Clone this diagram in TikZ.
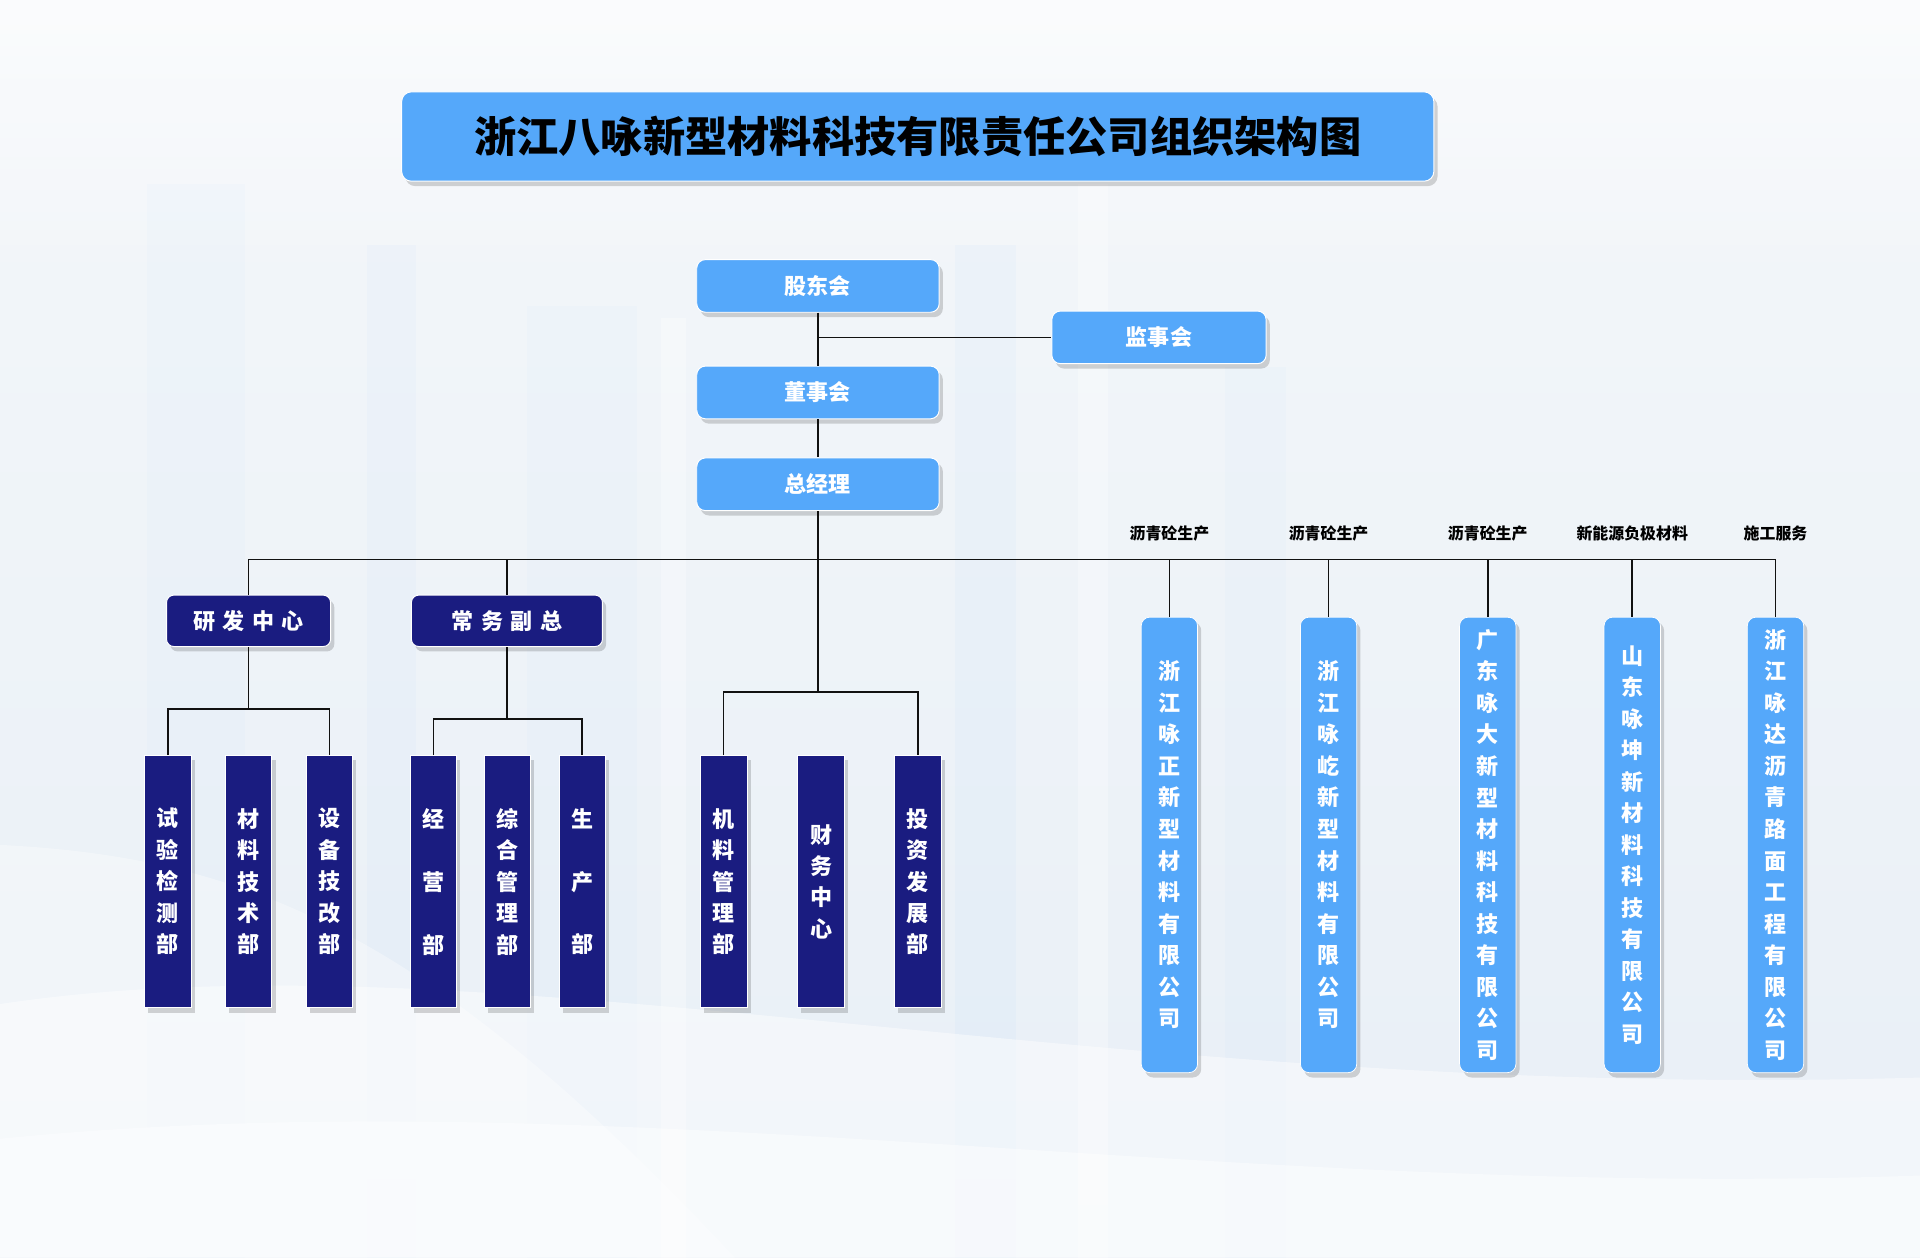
\documentclass[tikz,border=0pt]{standalone}
\usepackage{fontspec}
\setmainfont{Noto Sans CJK SC}
\usetikzlibrary{shadows,positioning}
\definecolor{lblue}{HTML}{55A8FA}
\definecolor{navy}{HTML}{1A1C80}
\definecolor{bgtop}{HTML}{F4F7FA}
\definecolor{bgbot}{HTML}{E8EFF6}
\definecolor{lineclr}{HTML}{111111}
\newcommand{\vsp}{\mbox{}}
\begin{document}
\begin{tikzpicture}[x=1pt,y=-1pt,
  shad/.style={drop shadow={shadow xshift=3pt,shadow yshift=-4pt,opacity=0.16,fill=black}},
  titlebox/.style={shad,fill=lblue,draw=white,line width=0.8pt,rounded corners=8pt,minimum width=843pt,minimum height=73pt,inner sep=0pt,font=\fontsize{34.5}{40}\selectfont\bfseries,text=black},
  topbox/.style={shad,fill=lblue,draw=white,line width=0.8pt,rounded corners=7pt,minimum width=198pt,minimum height=43pt,inner sep=0pt,font=\fontsize{18}{20}\selectfont\bfseries,text=white},
  midbox/.style={shad,fill=navy,draw=white,line width=0.8pt,rounded corners=6pt,minimum height=42pt,inner sep=0pt,font=\fontsize{18}{20}\selectfont\bfseries,text=white},
  deptbox/.style={shad,fill=navy,draw=white,line width=0.6pt,minimum width=38pt,minimum height=206pt,inner sep=0pt,align=center,font=\fontsize{18}{25.7}\selectfont\bfseries,text=white},
  cobox/.style={shad,fill=lblue,draw=white,line width=0.6pt,rounded corners=7pt,minimum width=46pt,minimum height=372pt,inner sep=0pt,align=center,font=\fontsize{18}{25.75}\selectfont\bfseries,text=white},
  toplabel/.style={font=\fontsize{13}{15}\selectfont\bfseries,text=black,inner sep=0pt},
  conn/.style={draw=lineclr,line width=1.3pt}]
% background
\useasboundingbox (0,0) rectangle (1568,1027);
\shade[top color=bgtop,bottom color=bgbot] (0,0) rectangle (1568,1027);
\shade[top color=white,bottom color=bgtop,opacity=0.6] (0,0) rectangle (1568,200);
\fill[lblue,opacity=0.025] (120,150) rectangle (200,1027);
\fill[lblue,opacity=0.03] (300,200) rectangle (340,1027);
\fill[lblue,opacity=0.025] (430,250) rectangle (520,1027);
\fill[white,opacity=0.3] (540,260) rectangle (560,1027);
\fill[lblue,opacity=0.035] (780,200) rectangle (830,1027);
\fill[white,opacity=0.3] (880,150) rectangle (905,1027);
\fill[lblue,opacity=0.025] (1000,300) rectangle (1050,1027);
\fill[white,opacity=0.45] (0,820) .. controls (400,760) and (900,900) .. (1568,880) -- (1568,1027) -- (0,1027) -- cycle;
\fill[white,opacity=0.45] (0,930) .. controls (500,880) and (1000,980) .. (1568,960) -- (1568,1027) -- (0,1027) -- cycle;
\fill[white,opacity=0.35] (0,690) .. controls (200,700) and (350,760) .. (600,1027) -- (0,1027) -- cycle;

% title
\node[titlebox] (title) at (749.5,111.5) {浙江八咏新型材料科技有限责任公司组织架构图};

% top nodes
\node[topbox] (gd) at (668,233.5) {股东会};
\node[topbox,minimum width=175pt] (js) at (946.5,275.5) {监事会};
\node[topbox] (ds) at (668,320.5) {董事会};
\node[topbox] (zj) at (668,395.5) {总经理};

% second level
\node[midbox,minimum width=134pt] (yf) at (203,507) {研\hspace{6pt}发\hspace{6pt}中\hspace{6pt}心};
\node[midbox,minimum width=156pt] (cw) at (414,507) {常\hspace{6pt}务\hspace{6pt}副\hspace{6pt}总};

% departments
\node[deptbox] (d1) at (137,720) {试\\验\\检\\测\\部};
\node[deptbox] (d2) at (203,720) {材\\料\\技\\术\\部};
\node[deptbox] (d3) at (269,720) {设\\备\\技\\改\\部};
\node[deptbox] (d4) at (354,720) {经\\\vsp\\营\\\vsp\\部};
\node[deptbox] (d5) at (414.5,720) {综\\合\\管\\理\\部};
\node[deptbox] (d6) at (475.5,720) {生\\\vsp\\产\\\vsp\\部};
\node[deptbox] (d7) at (591,720) {机\\料\\管\\理\\部};
\node[deptbox] (d8) at (670.5,720) {财\\务\\中\\心};
\node[deptbox] (d9) at (749.5,720) {投\\资\\发\\展\\部};

% companies
\node[cobox] (c1) at (955,690) {浙\\江\\咏\\正\\新\\型\\材\\料\\有\\限\\公\\司};
\node[cobox] (c2) at (1085,690) {浙\\江\\咏\\屹\\新\\型\\材\\料\\有\\限\\公\\司};
\node[cobox] (c3) at (1215,690) {广\\东\\咏\\大\\新\\型\\材\\料\\科\\技\\有\\限\\公\\司};
\node[cobox] (c4) at (1333,690) {山\\东\\咏\\坤\\新\\材\\料\\科\\技\\有\\限\\公\\司};
\node[cobox] (c5) at (1450,690) {浙\\江\\咏\\达\\沥\\青\\路\\面\\工\\程\\有\\限\\公\\司};

% labels
\node[toplabel] (l1) at (955,436) {沥青砼生产};
\node[toplabel] (l2) at (1085,436) {沥青砼生产};
\node[toplabel] (l3) at (1215,436) {沥青砼生产};
\node[toplabel] (l4) at (1333,436) {新能源负极材料};
\node[toplabel] (l5) at (1450,436) {施工服务};

% coordinates
\coordinate (bus) at (668,457);
\coordinate (midbus) at (668,565);
\coordinate (yfbus) at (203,579);
\coordinate (cwbus) at (414,587);

% connectors
\draw[conn] (gd.south) -- (ds.north);
\draw[conn] (gd.south |- js.west) -- (js.west);
\draw[conn] (ds.south) -- (zj.north);
\draw[conn] (zj.south) -- (midbus);
\draw[conn] (yf.north) -- (yf.north |- bus) -- (c5.north |- bus) -- (c5.north);
\draw[conn] (cw.north) -- (cw.north |- bus);
\draw[conn] (c1.north) -- (c1.north |- bus);
\draw[conn] (c2.north) -- (c2.north |- bus);
\draw[conn] (c3.north) -- (c3.north |- bus);
\draw[conn] (c4.north) -- (c4.north |- bus);
\draw[conn] (yf.south) -- (yfbus);
\draw[conn] (d1.north) -- (d1.north |- yfbus) -- (d3.north |- yfbus) -- (d3.north);
\draw[conn] (cw.south) -- (cwbus);
\draw[conn] (d4.north) -- (d4.north |- cwbus) -- (d6.north |- cwbus) -- (d6.north);
\draw[conn] (d7.north) -- (d7.north |- midbus) -- (d9.north |- midbus) -- (d9.north);
\end{tikzpicture}
\end{document}
